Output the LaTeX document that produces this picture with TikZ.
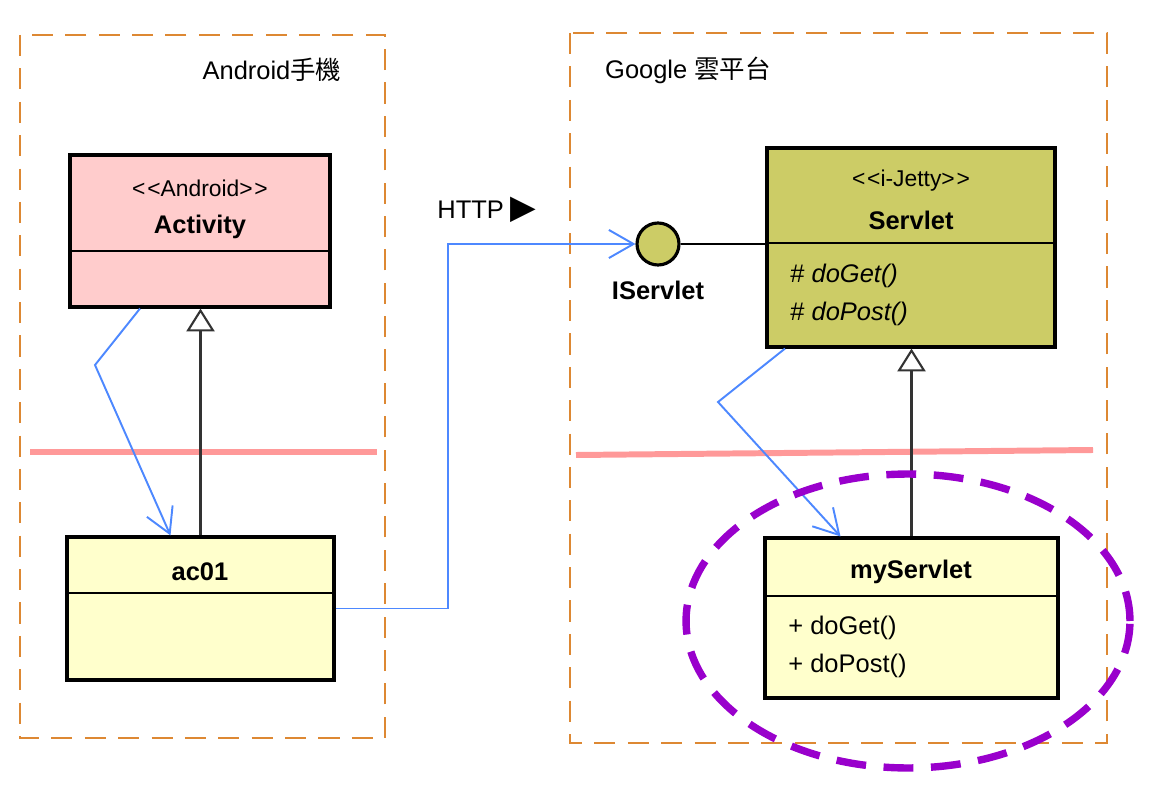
\documentclass[tikz,border=0pt]{standalone}
\usepackage{fontspec}
\setmainfont{Liberation Sans}
\newfontfamily\cjk{Noto Sans CJK TC}
\newfontfamily\symb{DejaVu Sans}
\usetikzlibrary{arrows.meta,calc}
\definecolor{rose}{HTML}{FFCCCC}
\definecolor{jaune}{HTML}{FFFFCC}
\definecolor{kaki}{HTML}{CCCC66}
\definecolor{orange1}{HTML}{DD8833}
\definecolor{bleu}{HTML}{4D88FF}
\definecolor{violet1}{HTML}{9900CC}
\definecolor{rouge}{HTML}{FF9999}
\newcommand{\ouvre}{<\kern1pt<}
\newcommand{\ferme}{>\kern1pt>}
\tikzstyle{classe}=[rectangle,draw,line width=1.8pt,inner sep=0pt]
\tikzstyle{cadre}=[draw=orange1,line width=1.1pt,dash pattern=on 12pt off 7pt]
\tikzstyle{texte}=[inner sep=0pt,font=\fontsize{14.5}{17}\selectfont]
\tikzstyle{gras}=[inner sep=0pt,font=\fontsize{14.5}{17}\selectfont\bfseries]
\tikzstyle{stereo}=[inner sep=0pt,font=\fontsize{13}{15}\selectfont]
\tikzstyle{dep}=[draw=bleu,line width=1.1pt,-{Straight Barb[length=14pt,width=16pt]}]
\tikzstyle{herit}=[draw=black!80,line width=1.2pt,-{Triangle[open,length=13pt,width=16pt,fill=white]}]
\tikzstyle{separ}=[draw=rouge,line width=3.4pt]
\begin{document}
\begin{tikzpicture}[x=0.02cm,y=-0.02cm]
  \useasboundingbox (0,0) rectangle (1172,810);
  % cadres
  \draw[cadre] (20,35) rectangle (385,738);
  \draw[cadre] (570,33) rectangle (1107,743);
  \node[texte] (phone) at (272,70) {Android{\cjk 手機}};
  \node[texte] (cloud) at (688,70) {Google {\cjk 雲平台}};
  \draw[separ] (30,452) -- (377,452);
  \draw[separ] (576,455) -- (1093,450);
  % classes
  \node[classe,fill=rose,minimum width=5.2cm,minimum height=3.04cm] (Act) at (200,231) {};
  \draw[line width=0.6pt] (Act.west |- 0,251) -- (Act.east |- 0,251);
  \node[stereo] (ActS) at (200,188) {\ouvre Android\ferme};
  \node[gras] (ActN) at (200,227) {Activity};
  \node[classe,fill=jaune,minimum width=5.34cm,minimum height=2.86cm] (ac01) at (200.5,608.5) {};
  \draw[line width=0.6pt] (ac01.west |- 0,593) -- (ac01.east |- 0,593);
  \node[gras] (ac01N) at (200,572) {ac01};
  \node[classe,fill=kaki,minimum width=5.76cm,minimum height=3.98cm] (Srv) at (911,247.5) {};
  \draw[line width=0.6pt] (Srv.west |- 0,243) -- (Srv.east |- 0,243);
  \node[stereo] (SrvS) at (911,181) {\ouvre i-Jetty\ferme};
  \node[gras] (SrvN) at (911,220) {Servlet};
  \node[texte,anchor=west] (SrvG) at (790,276) {\# \textit{doGet()}};
  \node[texte,anchor=west] (SrvP) at (790,314) {\# \textit{doPost()}};
  \node[classe,fill=jaune,minimum width=5.86cm,minimum height=3.2cm] (myS) at (911.5,618) {};
  \draw[line width=0.6pt] (myS.west |- 0,596) -- (myS.east |- 0,596);
  \node[gras] (mySN) at (911,572) {myServlet};
  \node[texte,anchor=west] (myG) at (788,628) {+ doGet()};
  \node[texte,anchor=west] (myP) at (788,666) {+ doPost()};
  % interface
  \node[circle,draw,fill=kaki,line width=1.8pt,minimum size=0.84cm,inner sep=0pt] (IS) at (658,244) {};
  \node[gras] (ISN) at (658,290) {IServlet};
  \draw[line width=0.8pt] (IS.east) -- (IS -| Srv.west);
  % liens
  \node[texte] (http) at (487,210) {HTTP {\symb\fontsize{19}{20}\selectfont ▶}};
  \draw[dep] (ac01.east) -- ++(112,0) |- (IS.west);
  \draw[dep] ($(Act.south)+(-60,0)$) -- (95,365) -- ($(ac01.north)+(-30,0)$);
  \draw[herit] (ac01.north) -- (ac01.north |- Act.south);
  \draw[dep] ($(Srv.south)+(-126,0)$) -- (718,402) -- ($(myS.north)+(-71,0)$);
  \draw[herit] (myS.north) -- (myS.north |- Srv.south);
  % cercle
  \draw[draw=violet1,line width=4.2pt,dash pattern=on 17pt off 10pt] (908,621) ellipse [x radius=4.44cm,y radius=2.94cm];
\end{tikzpicture}
\end{document}
